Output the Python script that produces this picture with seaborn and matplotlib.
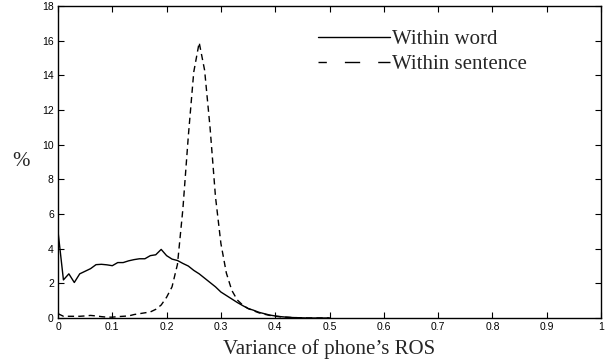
import numpy as np
import pandas as pd
import matplotlib
matplotlib.use("Agg")
import matplotlib.pyplot as plt
from matplotlib.lines import Line2D
import seaborn as sns

variance = [round(0.01 * i, 2) for i in range(0, 51)]
within_word = [5.0, 2.2, 2.55, 2.05, 2.55, 2.7, 2.85, 3.08, 3.1, 3.07,
               3.02, 3.2, 3.2, 3.3, 3.37, 3.42, 3.42, 3.6, 3.65, 3.96,
               3.6, 3.4, 3.32, 3.15, 3.0, 2.75, 2.55, 2.3, 2.05, 1.8,
               1.5, 1.3, 1.1, 0.9, 0.72, 0.55, 0.45, 0.33, 0.25, 0.17,
               0.12, 0.08, 0.05, 0.03, 0.02, 0.01, 0.0, 0.0, 0.0, 0.0, 0.0]
within_sentence = [0.25, 0.1, 0.1, 0.1, 0.1, 0.12, 0.15, 0.12, 0.08, 0.05,
                   0.05, 0.08, 0.1, 0.12, 0.2, 0.25, 0.3, 0.35, 0.5, 0.75,
                   1.2, 1.8, 3.1, 6.3, 10.5, 14.2, 15.9, 14.3, 11.0, 7.0,
                   4.3, 2.6, 1.6, 1.05, 0.75, 0.55, 0.42, 0.3, 0.22, 0.15,
                   0.1, 0.07, 0.05, 0.03, 0.02, 0.01, 0.0, 0.0, 0.0, 0.0, 0.0]
series_names = ["Within word", "Within sentence"]
x_ticks = [0, 0.1, 0.2, 0.3, 0.4, 0.5, 0.6, 0.7, 0.8, 0.9, 1]
x_tick_labels = ["0", "0.1", "0.2", "0.3", "0.4", "0.5", "0.6", "0.7", "0.8", "0.9", "1"]
y_ticks = [0, 2, 4, 6, 8, 10, 12, 14, 16, 18]

df = pd.DataFrame({
    "x": variance * 2,
    "y": within_word + within_sentence,
    "series": [series_names[0]] * len(variance) + [series_names[1]] * len(variance),
})

sns.set_style("ticks")
plt.rcParams["font.family"] = ["Liberation Sans", "DejaVu Sans"]
serif = ["Liberation Serif", "DejaVu Serif"]

fig = plt.figure(figsize=(6.08, 3.62), dpi=100)
ax = fig.add_axes([0.0954, 0.1215, 0.8931, 0.8615])

sns.lineplot(data=df[df.series == series_names[0]], x="x", y="y", color="black",
             linewidth=1.0, ax=ax, legend=False)
sns.lineplot(data=df[df.series == series_names[1]], x="x", y="y", color="black",
             linewidth=1.0, ax=ax, legend=False)
ax.lines[1].set_dashes([4.5, 3])

ax.set_xlim(0, 1)
ax.set_ylim(0, 18)
ax.set_xticks(x_ticks)
ax.set_xticklabels(x_tick_labels)
ax.set_yticks(y_ticks)
ax.tick_params(direction="in", length=4, width=0.8, labelsize=7.5, top=True, right=True,
               colors="black", pad=3)
for s in ax.spines.values():
    s.set_linewidth(1.0)
    s.set_color("black")

ax.set_xlabel("Variance of phone\u2019s ROS", family=serif, fontsize=15, labelpad=5)
ax.set_ylabel("%", family=serif, fontsize=15, rotation=0)
ax.yaxis.set_label_coords(-0.068, 0.47)

handles = [Line2D([], [], color="black", linewidth=1.0),
           Line2D([], [], color="black", linewidth=1.0, linestyle=(5, (11, 13)))]
ax.legend(handles, series_names, loc="upper left", bbox_to_anchor=(0.479, 0.924),
          frameon=False, handlelength=3.45, handletextpad=0.12, labelspacing=0.25,
          borderpad=0, borderaxespad=0,
          prop={"family": serif, "size": 15})

fig.savefig("out.png", dpi=100)
